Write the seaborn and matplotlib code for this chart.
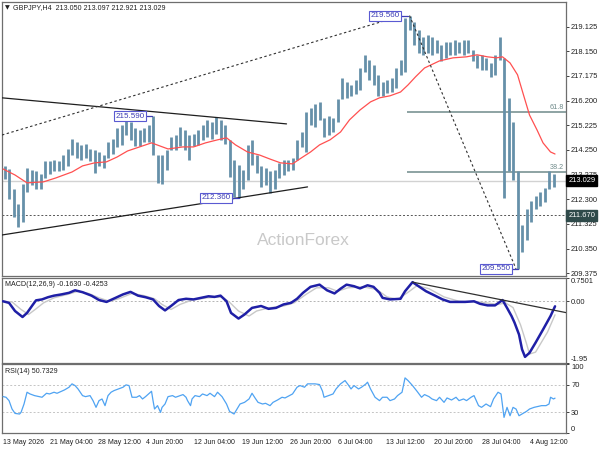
import matplotlib
matplotlib.use("Agg")
import matplotlib.pyplot as plt
import seaborn as sns

# ---- values ----
header = "GBPJPY,H4  213.050 213.097 212.921 213.029"
date_labels = ["13 May 2026", "21 May 04:00", "28 May 12:00", "4 Jun 20:00",
               "12 Jun 04:00", "19 Jun 12:00", "26 Jun 20:00", "6 Jul 04:00",
               "13 Jul 12:00", "20 Jul 20:00", "28 Jul 04:00", "4 Aug 12:00"]

# high / low of each group of 3 H4 bars
bar_high = [213.60, 213.50, 212.70, 212.10, 212.90, 213.55, 213.45, 213.40, 213.30, 213.80,
            213.80, 213.85, 213.80, 214.05, 214.30, 214.70, 214.55, 214.45, 214.50, 214.30,
            214.25, 214.15, 214.05, 214.55, 214.70, 215.10, 215.25, 215.45, 215.35, 215.10,
            215.05, 215.10, 215.25, 215.59, 214.05, 214.05, 214.25, 214.75, 214.85, 215.15,
            215.05, 214.85, 214.90, 215.05, 215.25, 215.45, 215.35, 215.55, 215.45, 215.25,
            214.65, 213.85, 213.65, 213.45, 214.45, 214.65, 214.05, 213.60, 213.55, 213.40,
            213.45, 213.75, 213.85, 213.85, 213.95, 214.65, 214.95, 215.75, 215.90, 216.05,
            216.15, 215.50, 215.60, 215.50, 216.25, 217.10, 216.95, 216.80, 217.00, 217.50,
            218.00, 217.80, 217.60, 217.20, 216.95, 217.00, 217.10, 217.50, 217.80, 219.45,
            219.56, 219.30, 219.00, 218.70, 218.80, 218.70, 218.60, 218.40, 218.50, 218.50,
            218.60, 218.50, 218.60, 218.60, 218.20, 218.00, 218.00, 217.90, 217.70, 218.00,
            218.70, 217.90, 216.30, 215.35, 213.40, 211.30, 211.90, 212.25, 212.45, 212.60,
            212.75, 213.40, 213.30]
bar_low = [213.10, 212.30, 211.60, 211.20, 211.40, 212.60, 212.85, 212.70, 212.70, 213.15,
           213.30, 213.40, 213.40, 213.45, 213.60, 214.05, 213.95, 213.85, 213.95, 213.80,
           213.35, 213.60, 213.55, 213.95, 214.10, 214.35, 214.45, 214.85, 214.65, 214.40,
           214.40, 214.55, 214.55, 214.05, 212.95, 212.90, 213.45, 214.25, 214.25, 214.40,
           214.25, 213.85, 214.40, 214.45, 214.65, 214.75, 214.70, 214.90, 214.65, 214.50,
           213.20, 212.40, 212.36, 212.70, 213.05, 213.65, 213.35, 212.80, 212.85, 212.55,
           212.70, 213.15, 213.25, 213.40, 213.45, 213.85, 214.35, 214.15, 215.25, 215.15,
           215.45, 214.75, 214.85, 214.95, 215.35, 216.25, 216.30, 216.40, 216.45, 216.60,
           217.35, 217.00, 216.80, 216.40, 216.40, 216.50, 216.55, 216.70, 217.20, 217.35,
           219.00, 218.40, 218.10, 218.00, 218.10, 218.00, 218.10, 217.75, 217.90, 218.00,
           218.00, 218.10, 218.00, 218.10, 217.75, 217.50, 217.40, 217.40, 217.15, 217.20,
           217.80, 212.35, 213.40, 213.05, 209.55, 210.20, 210.70, 211.40, 211.90, 212.05,
           212.20, 212.70, 212.80]

ma_bar = [0, 8, 16, 27, 35, 46, 53, 61, 69, 76, 83, 91, 99, 110, 120, 127, 135, 143, 149, 155,
          163, 171, 178, 185, 193, 199, 205, 211, 218, 225, 231, 238, 245, 251, 258, 265, 270,
          275, 281, 291, 300, 309, 316, 323, 329, 333, 338, 343, 347, 351, 356, 360, 365, 368]
ma_val = [213.50, 213.26, 212.95, 212.99, 213.14, 213.38, 213.62, 213.74, 213.78, 213.97,
          214.21, 214.37, 214.53, 214.29, 214.37, 214.37, 214.53, 214.65, 214.73, 214.45,
          214.17, 214.05, 213.89, 213.74, 213.70, 213.94, 214.17, 214.45, 214.65, 214.96,
          215.44, 215.83, 216.15, 216.31, 216.39, 216.54, 216.82, 217.14, 217.49, 217.77,
          217.89, 217.93, 218.01, 217.93, 217.89, 217.93, 217.69, 217.22, 216.42, 215.63,
          215.04, 214.53, 214.17, 214.09]

macd_bar = [0, 4, 8, 13, 16, 20, 22, 26, 30, 34, 39, 44, 48, 53, 59, 64, 69, 75, 80, 85,
            90, 95, 100, 104, 108, 112, 117, 122, 127, 132, 137, 141, 145, 149, 152, 157, 161,
            166, 172, 177, 182, 187, 192, 196, 200, 205, 211, 216, 221, 225, 229, 234, 238,
            243, 247, 251, 253, 258, 265, 268, 273, 277, 282, 288, 293, 298, 303, 308, 314,
            318, 323, 328, 333, 336, 339, 341, 344, 346, 348, 351, 355, 360, 365, 368]
macd_val = [0.00, -0.05, -0.31, -0.50, -0.37, -0.10, 0.03, 0.06, 0.13, 0.18, 0.22, 0.27,
            0.35, 0.29, 0.18, 0.04, -0.02, 0.11, 0.22, 0.30, 0.18, 0.13, 0.06, -0.15, -0.29,
            -0.15, 0.04, 0.08, 0.06, 0.11, 0.16, 0.14, 0.18, 0.00, -0.37, -0.55, -0.42, -0.21,
            -0.15, -0.24, -0.21, -0.10, -0.05, 0.08, 0.27, 0.46, 0.53, 0.35, 0.25, 0.40, 0.53,
            0.48, 0.41, 0.51, 0.46, 0.27, 0.11, 0.06, 0.08, 0.32, 0.61, 0.48, 0.32, 0.18, 0.06,
            -0.02, -0.02, -0.02, 0.00, -0.08, -0.13, -0.13, 0.04, -0.21, -0.47, -0.68, -1.06,
            -1.53, -1.77, -1.64, -1.32, -0.90, -0.47, -0.16]
sig_bar = [0, 6, 12, 17, 22, 27, 34, 43, 50, 57, 64, 71, 77, 86, 94, 101, 106, 112, 118, 126,
           136, 146, 151, 157, 164, 169, 177, 187, 194, 202, 209, 217, 223, 230, 240, 249, 256,
           263, 271, 276, 284, 294, 304, 317, 330, 335, 340, 345, 349, 351, 355, 359, 363, 368]
sig_val = [0.00, -0.02, -0.26, -0.42, -0.24, -0.05, 0.11, 0.22, 0.32, 0.25, 0.11, 0.00, 0.08,
           0.25, 0.18, 0.08, -0.10, -0.26, -0.10, 0.04, 0.11, 0.14, -0.03, -0.31, -0.47, -0.31,
           -0.21, -0.15, -0.05, 0.22, 0.43, 0.43, 0.32, 0.43, 0.46, 0.38, 0.14, 0.06, 0.32,
           0.50, 0.40, 0.14, 0.00, -0.02, -0.10, -0.05, -0.20, -0.75, -1.35, -1.68, -1.62,
           -1.30, -0.98, -0.43]

rsi_bar = [0, 2, 4, 6, 8, 11, 12, 14, 16, 18, 21, 24, 26, 29, 31, 34, 36, 39, 41, 44,
           46, 48, 50, 53, 55, 58, 60, 62, 64, 66, 68, 70, 72, 74, 77, 80, 82, 84, 86, 89,
           91, 93, 95, 97, 99, 100, 101, 103, 105, 106, 108, 110, 113, 115, 118, 120, 122, 123,
           125, 126, 128, 131, 133, 136, 138, 141, 143, 146, 149, 151, 154, 156, 158, 161, 164,
           166, 168, 170, 173, 175, 178, 180, 183, 186, 188, 191, 193, 196, 198, 201, 203, 206,
           208, 211, 213, 214, 217, 220, 222, 225, 228, 230, 232, 234, 237, 239, 242, 243, 245,
           248, 251, 253, 256, 258, 261, 263, 266, 268, 270, 273, 276, 279, 281, 284, 286, 289,
           291, 294, 296, 299, 302, 304, 307, 309, 312, 314, 317, 319, 322, 325, 327, 330, 332,
           334, 336, 338, 340, 342, 344, 346, 349, 351, 354, 356, 359, 362, 364, 365, 367, 368]
rsi_val = [53.0, 52.0, 47.1, 34.9, 28.5, 27.6, 30.0, 42.2, 59.3, 56.8,
           54.4, 52.9, 52.0, 57.8, 56.8, 59.3, 57.8, 60.7, 62.7, 66.6,
           71.5, 69.0, 64.1, 54.4, 52.9, 54.4, 47.1, 37.3, 47.1, 49.5,
           39.8, 54.4, 59.3, 61.7, 64.1, 66.6, 70.0, 69.0, 52.0, 52.0,
           54.4, 49.5, 52.9, 56.8, 60.7, 47.1, 34.9, 39.8, 30.0, 37.3,
           42.2, 52.9, 54.4, 52.0, 54.4, 55.9, 52.0, 47.1, 39.8, 49.5,
           54.4, 52.9, 56.8, 54.4, 57.8, 52.9, 59.3, 52.9, 42.2, 31.5,
           27.6, 34.9, 42.2, 44.6, 49.5, 57.8, 51.0, 44.6, 42.2, 43.2,
           39.8, 44.6, 48.0, 52.0, 51.0, 54.4, 56.8, 66.6, 69.0, 66.6,
           71.5, 71.5, 71.5, 70.5, 60.7, 52.0, 54.4, 56.8, 64.1, 71.5,
           76.3, 70.5, 64.1, 69.0, 64.1, 66.6, 71.5, 73.9, 64.1, 52.0,
           47.1, 52.0, 52.0, 47.1, 49.5, 54.4, 59.3, 80.2, 76.3, 69.0,
           60.7, 52.0, 55.9, 52.9, 49.5, 47.1, 52.0, 44.6, 51.0, 48.0,
           52.0, 47.1, 49.5, 47.1, 52.0, 54.4, 39.8, 37.3, 42.2, 38.3,
           49.5, 59.3, 56.8, 22.7, 37.3, 25.1, 37.3, 34.9, 25.1, 27.6,
           31.5, 34.9, 37.3, 38.3, 39.8, 39.8, 42.2, 52.0, 49.5, 50.7]

price_ticks = [209.375, 210.350, 211.325, 212.300, 213.275, 214.250,
               215.225, 216.200, 217.175, 218.150, 219.125]
last_price = 213.029
support = 211.670
swing_high, swing_high_bar = 219.560, 270
swing_low, swing_low_bar = 209.550, 343
tri_high, tri_high_bar = 215.590, 99
tri_low, tri_low_bar = 212.360, 157

# trend lines as (bar, value) pairs
upper_line = [(-0.7, 216.31), (189, 215.28)]
lower_line = [(-0.7, 210.89), (203, 212.79)]
rise_line = [(-0.7, 214.84), (266, 219.56)]
fall_line = [(271, 219.56), (342, 209.55)]
macd_line = [(273, 0.61), (375.3, -0.36)]

# ---- drawing ----
sns.set_style("white")
plt.rcParams['font.family'] = ['Liberation Sans', 'DejaVu Sans']

BAR_COL = '#6690a9'
EDGE = '#6e6e6e'
LBL = '#3c3cb4'
TXT = '#202020'
X0, X1 = -0.7, 375.3
bars_per_label = 32

fig = plt.figure(figsize=(6, 4.5), dpi=100)
ax = fig.add_axes([0.0033, 0.3867, 0.94, 0.6096])
ax_m = fig.add_axes([0.0033, 0.1944, 0.94, 0.1884])
ax_r = fig.add_axes([0.0033, 0.0378, 0.94, 0.1527])

for a in (ax, ax_m, ax_r):
    a.set_xlim(X0, X1)
    a.yaxis.tick_right()
    a.tick_params(axis='y', direction='out', length=2.5, width=0.6, colors=TXT,
                  labelsize=5.4, pad=1.2)
    for s in a.spines.values():
        s.set_color(EDGE)
        s.set_linewidth(0.9)
    a.set_xlabel('')
    a.set_ylabel('')

# main price panel
ax.set_ylim(209.27, 220.11)
ax.axhline(last_price, color='#d2d2d2', lw=1.0, zorder=1)
ax.axhline(support, color='#555555', lw=0.7, ls=(0, (2, 2)), zorder=1)

col_x = [3 * k + 1 for k in range(len(bar_high))]
ax.vlines(col_x, bar_low, bar_high, color=BAR_COL, lw=2.0, zorder=3)
sns.lineplot(x=ma_bar, y=ma_val, ax=ax, color='#ff5050', lw=0.9, sort=False,
             estimator=None, zorder=4)

for line in (upper_line, lower_line):
    ax.plot([p[0] for p in line], [p[1] for p in line], color='#1e1e1e', lw=0.9, zorder=5)
for line in (rise_line, fall_line):
    ax.plot([p[0] for p in line], [p[1] for p in line], color='#303030', lw=0.8,
            ls=(0, (2.2, 2.2)), zorder=5)

# fibonacci retracement of the last swing
rng = swing_high - swing_low
for pct in (61.8, 38.2):
    lvl = swing_low + rng * pct / 100
    ax.hlines(lvl, swing_high_bar - 1, X1, color='#6f8a8a', lw=1.1, zorder=2)
    ax.text(X1 - 1.5, lvl + 0.04, f'{pct:.1f}', ha='right', va='bottom',
            fontsize=5.2, color='#6f8a8a')

# swing labels
box = dict(boxstyle='square,pad=0.18', fc='white', ec='#5a5ad2', lw=0.8)
for val, b, off in ((tri_high, tri_high_bar, 4.5), (tri_low, tri_low_bar, 5.5),
                    (swing_high, swing_high_bar, 5.5), (swing_low, swing_low_bar, 4.5)):
    ax.plot([b - off, b], [val, val], color=LBL, lw=0.9, zorder=6)
    ax.text(b - off, val, f'{val:.3f}', ha='right', va='center', fontsize=5.8,
            color=LBL, bbox=box, zorder=7)

ax.set_yticks(price_ticks)
ax.set_yticklabels([f'{t:.3f}' for t in price_ticks])
ax.set_xticks([])

ytr = ax.get_yaxis_transform()
ax.text(1.004, last_price, f'{last_price:.3f}', transform=ytr, ha='left', va='center',
        fontsize=5.4, color='white', clip_on=False, zorder=8,
        bbox=dict(boxstyle='square,pad=0.25', fc='black', ec='black'))
ax.text(1.004, support, f'{support:.3f}', transform=ytr, ha='left', va='center',
        fontsize=5.4, color='white', clip_on=False, zorder=8,
        bbox=dict(boxstyle='square,pad=0.25', fc='#2f4a4a', ec='#2f4a4a'))

ax.text(0.006, 0.987, '\u25bc', transform=ax.transAxes, ha='left', va='top',
        fontsize=4.5, color=TXT, family=['DejaVu Sans'])
ax.text(0.02, 0.99, header, transform=ax.transAxes, ha='left', va='top',
        fontsize=5.1, color=TXT)
ax.text(0.534, 0.13, 'ActionForex', transform=ax.transAxes, ha='center', va='center',
        fontsize=12.5, color='#c9c9c9', zorder=0)

# MACD panel
ax_m.set_ylim(-1.95, 0.7501)
ax_m.axhline(0, color='#b4b4b4', lw=0.7, ls=(0, (2, 2)), zorder=1)
sns.lineplot(x=sig_bar, y=sig_val, ax=ax_m, color='#c8c8c8', lw=1.0, sort=False,
             estimator=None, zorder=2)
sns.lineplot(x=macd_bar, y=macd_val, ax=ax_m, color='#1f1fa6', lw=1.8, sort=False,
             estimator=None, zorder=3)
ax_m.plot([p[0] for p in macd_line], [p[1] for p in macd_line], color='#303030', lw=0.9,
          zorder=4)
ax_m.set_yticks([-1.95, 0.0, 0.7501])
ax_m.set_yticklabels(['-1.95', '0.00', '0.7501'])
lbls = ax_m.get_yticklabels()
lbls[0].set_va('bottom')
lbls[2].set_va('top')
ax_m.set_xticks([])
ax_m.text(0.006, 0.96, 'MACD(12,26,9) -0.1630 -0.4253', transform=ax_m.transAxes,
          ha='left', va='top', fontsize=5.1, color=TXT)

# RSI panel
ax_r.set_ylim(0, 100)
for lvl in (30, 70):
    ax_r.axhline(lvl, color='#c4c4c4', lw=0.7, ls=(0, (2, 2)), zorder=1)
sns.lineplot(x=rsi_bar, y=rsi_val, ax=ax_r, color='#4fa3f2', lw=0.9, sort=False,
             estimator=None, zorder=3)
ax_r.set_yticks([0, 30, 70, 100])
ax_r.set_yticklabels(['0', '30', '70', '100'])
rl = ax_r.get_yticklabels()
rl[0].set_va('bottom')
rl[3].set_va('top')
ax_r.text(0.006, 0.95, 'RSI(14) 50.7329', transform=ax_r.transAxes, ha='left', va='top',
          fontsize=5.1, color=TXT)

tick_bars = [0] + [bars_per_label * i - 1 for i in range(1, len(date_labels))]
ax_r.set_xticks(tick_bars)
ax_r.set_xticklabels(date_labels, ha='left')
ax_r.tick_params(axis='x', direction='out', length=2.5, width=0.6, colors=TXT,
                 labelsize=5.0, pad=1.5)

fig.savefig('out.png', dpi=100)
